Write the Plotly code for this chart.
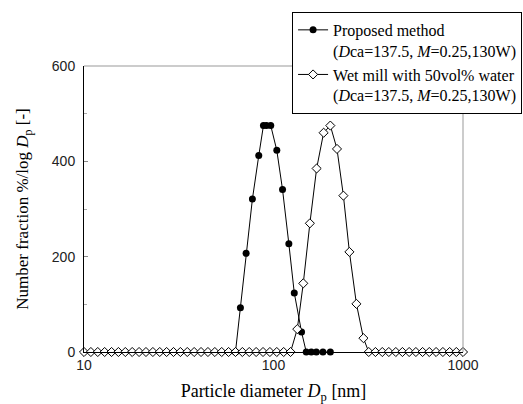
import plotly.graph_objects as go

# Proposed method (filled circles)
prop_d = [63.0, 66.9, 71.7, 77.4, 83.6, 88.5, 91.8, 96.7, 104.1, 111.6, 120.5, 128.7, 140.6,
          148.9, 158.3, 168.3, 182.3, 199.5]
prop_v = [0, 93, 207, 321, 412, 475, 475, 475, 423, 341, 227, 124, 42,
          0, 0, 0, 0, 0]

# Wet mill with 50vol% water (open diamonds)
wet_d = [10.0, 10.87, 11.82, 12.85, 13.98, 15.19, 16.52, 17.96, 19.53, 21.23, 23.09, 25.10,
         27.29, 29.67, 32.26, 35.07, 38.14, 41.46, 45.08, 49.02, 53.29, 57.94, 63.00, 68.50,
         74.47, 80.97, 88.04, 95.72, 104.07, 113.16, 123.0,
         133.5, 143.6, 155.6, 168.9, 183.9, 199.5, 216.3, 233.8, 251.5, 273.9, 298.3,
         318.1, 345, 375, 406, 442, 479, 520, 564, 612, 664, 721, 783, 850, 922, 1000]
wet_v = [0] * 31 + [48, 144, 270, 385, 460, 475, 426, 328, 210, 101, 29] + [0] * 15

x_ticks = [10, 100, 1000]
y_ticks = [0, 200, 400, 600]

serif = "Liberation Serif"
sans = "Liberation Sans"

fig = go.Figure()
fig.add_trace(go.Scatter(
    x=prop_d, y=prop_v, mode="lines+markers",
    name="Proposed method<br>(<i>D</i>ca=137.5, <i>M</i>=0.25,130W)",
    line=dict(color="black", width=1),
    marker=dict(symbol="circle", size=7, color="black"),
    cliponaxis=False,
))
fig.add_trace(go.Scatter(
    x=wet_d, y=wet_v, mode="lines+markers",
    name="Wet mill with 50vol% water<br>(<i>D</i>ca=137.5, <i>M</i>=0.25,130W)",
    line=dict(color="black", width=1),
    marker=dict(symbol="diamond", size=7, color="white", line=dict(color="black", width=1)),
    cliponaxis=False,
))

fig.update_layout(
    width=523, height=404,
    margin=dict(l=84, r=60, t=66, b=52, autoexpand=False),
    paper_bgcolor="white", plot_bgcolor="white",
    showlegend=True,
    legend=dict(
        x=0.549, y=1.189, xanchor="left", yanchor="top",
        bgcolor="white", bordercolor="black", borderwidth=1,
        font=dict(family=serif, size=16, color="black"),
        valign="top",
    ),
    xaxis=dict(
        type="log", range=[1, 3],
        tickvals=x_ticks, ticktext=[str(v) for v in x_ticks],
        showgrid=False, zeroline=False,
        showline=True, linecolor="black", linewidth=1,
        ticks="",
        tickfont=dict(family=sans, size=14, color="#222"),
        title=dict(text="Particle diameter <i>D</i><sub>p</sub> [nm]",
                   font=dict(family=serif, size=18, color="black"), standoff=16),
    ),
    yaxis=dict(
        range=[0, 600],
        tickvals=y_ticks,
        showgrid=False, zeroline=False,
        showline=True, linecolor="black", linewidth=1,
        ticks="inside", ticklen=4, tickcolor="#888",
        ticklabelstandoff=5,
        minor=dict(tickvals=[100, 300, 500], ticks="inside", ticklen=3, tickcolor="#aaa"),
        tickfont=dict(family=sans, size=14, color="#222"),
        title=dict(text="Number fraction %/log <i>D</i><sub>p</sub> [-]",
                   font=dict(family=serif, size=17, color="black"), standoff=18),
    ),
    shapes=[
        dict(type="line", xref="paper", yref="paper", x0=0, x1=1, y0=1, y1=1,
             line=dict(color="#999", width=1)),
        dict(type="line", xref="paper", yref="paper", x0=1, x1=1, y0=0, y1=1,
             line=dict(color="#999", width=1)),
    ],
)

fig.write_html("out.html")
